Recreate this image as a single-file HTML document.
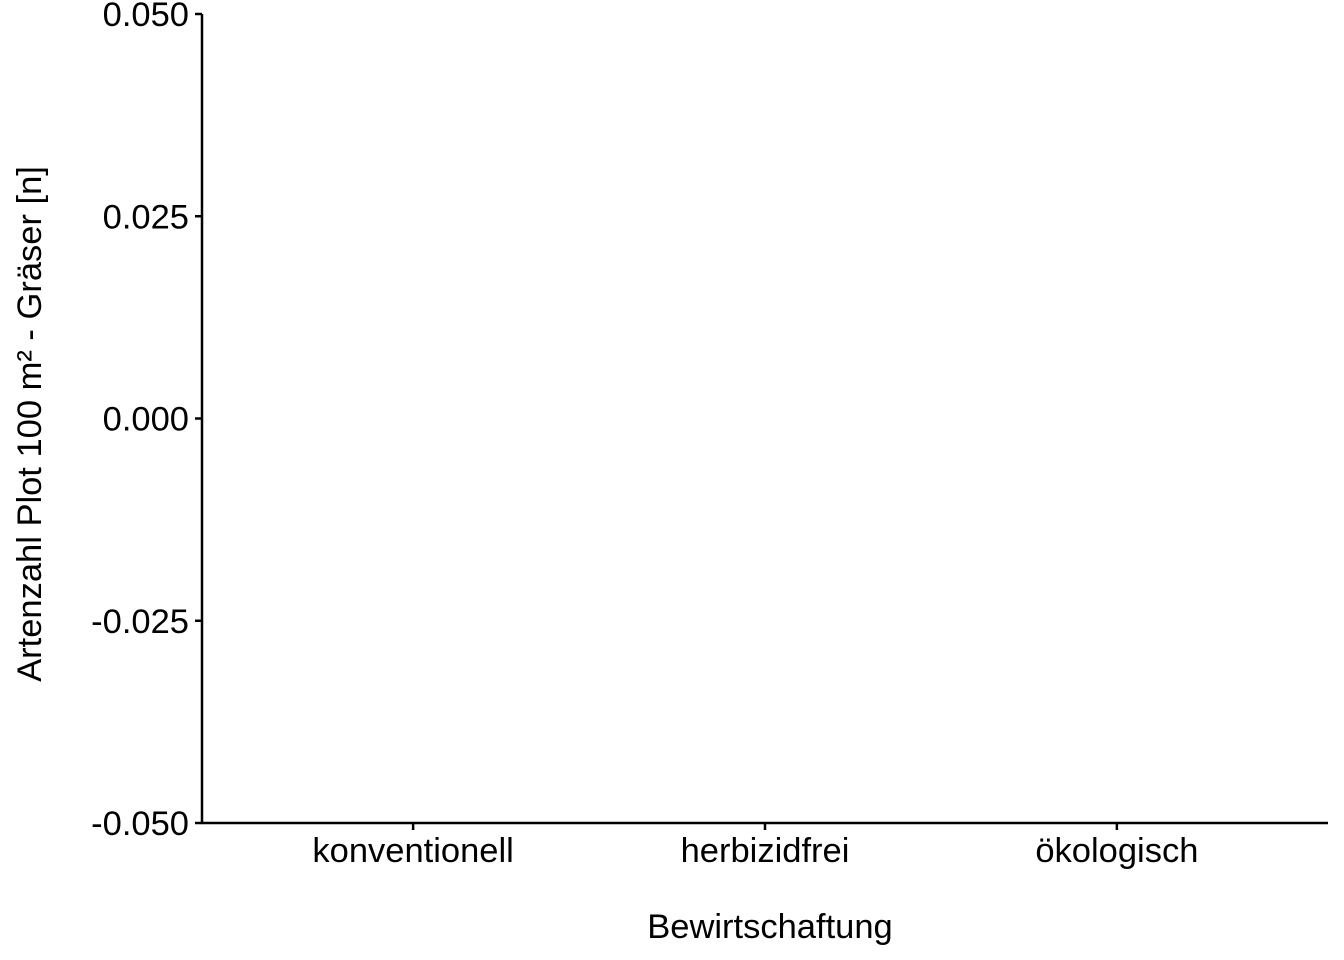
<!DOCTYPE html>
<html><head><meta charset="utf-8"><style>
body{margin:0;background:#fff}
svg{display:block}
text{font-family:"Liberation Sans",sans-serif;fill:#000}
</style></head><body>
<svg id="chart" width="1344" height="960" viewBox="0 0 1344 960" xmlns="http://www.w3.org/2000/svg">
<g id="axes"></g>
<text x="770" y="938" font-size="34.5" text-anchor="middle">Bewirtschaftung</text>
<text transform="translate(41,424) rotate(-90)" font-size="34.5" text-anchor="middle">Artenzahl Plot 100 m² - Gräser [n]</text>
</svg>
<script>
const categories = ["konventionell","herbizidfrei","ökologisch"];
const yTicks = [-0.05,-0.025,0,0.025,0.05];
const yTickLabels = ["-0.050","-0.025","0.000","0.025","0.050"];
const plotLeft=202,plotRight=1328,plotTop=14,plotBottom=823;
const yMin=-0.05,yMax=0.05;
const ns="http://www.w3.org/2000/svg";
const g=document.getElementById('axes');
function yScale(v){return plotBottom-(v-yMin)/(yMax-yMin)*(plotBottom-plotTop);}
function xScale(i){const exp=0.6;const n=categories.length;const step=(plotRight-plotLeft)/(n-1+2*exp);return plotLeft+(i+exp)*step;}
function mk(tag,attrs){const e=document.createElementNS(ns,tag);for(const k in attrs)e.setAttribute(k,attrs[k]);g.appendChild(e);return e;}
let e=mk('line',{x1:plotLeft,y1:plotTop,x2:plotLeft,y2:plotBottom+1,stroke:'#000','stroke-width':2.5});


e=mk('line',{x1:plotLeft-1,y1:plotBottom,x2:plotRight,y2:plotBottom,stroke:'#000','stroke-width':2.5});


yTicks.forEach((v,i)=>{
  let t=mk('line',{x1:plotLeft-7,y1:yScale(v),x2:plotLeft,y2:yScale(v),stroke:'#000','stroke-width':2.5});
  
  
  let l=mk('text',{x:plotLeft-13,y:yScale(v)+12,'font-size':34.5,'text-anchor':'end'});
  l.textContent=yTickLabels[i];
  
  
});
categories.forEach((c,i)=>{
  let t=mk('line',{x1:xScale(i),y1:plotBottom,x2:xScale(i),y2:plotBottom+7,stroke:'#000','stroke-width':2.5});
  
  
  let l=mk('text',{x:xScale(i),y:862,'font-size':34.5,'text-anchor':'middle'});
  l.textContent=c;
  
  
});
</script>
</body></html>
